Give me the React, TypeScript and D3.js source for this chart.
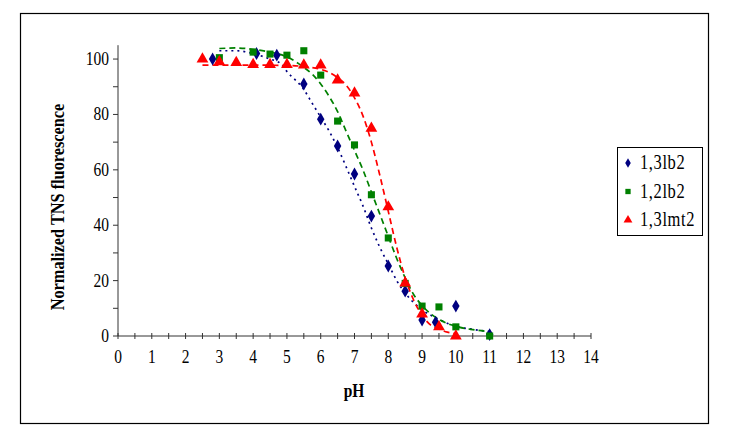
import { useEffect, useRef } from "react";
import * as d3 from "d3";

const seriesNames = ["1,3lb2", "1,2lb2", "1,3lmt2"];
const seriesColors = ["#000080", "#008000", "#ff0000"];

// measured points [pH, normalized fluorescence]
const lb13Points = [
  [2.8, 100], [4.1, 102], [4.7, 101.4], [5.5, 91], [6, 78.3], [6.5, 68.6], [7, 58.5],
  [7.5, 43.3], [8, 25.3], [8.5, 16.2], [9, 5.8], [9.4, 5], [10, 10.8], [11, 0.5],
];
const lb12Points = [
  [3, 100.5], [4, 102.5], [4.5, 101.8], [5, 101.4], [5.5, 103], [6, 94.2], [6.5, 77.6],
  [7, 69], [7.5, 51], [8, 35.4], [8.5, 19], [9, 10.8], [9.5, 10.5], [10, 3.3], [11, 0],
];
const lmt13Points = [
  [2.5, 100], [3, 99], [3.5, 98.7], [4, 98], [4.5, 98], [5, 98], [5.5, 97.8], [6, 97.8],
  [6.5, 92.4], [7, 87.7], [7.5, 75], [8, 46.6], [8.5, 19.1], [9, 7.9], [9.5, 3.3], [10, 0],
];

// fitted curves
const lb13Fit = [
  [3, 103], [3.5, 103], [4, 102], [4.5, 100], [4.8, 98.5], [5, 95.5], [5.5, 89], [5.75, 84],
  [6, 79], [6.25, 74], [6.5, 68], [7, 54], [7.25, 47], [7.5, 39], [7.75, 32], [8, 26],
  [8.25, 20], [8.5, 15.5], [9, 9.5], [9.5, 6], [10, 3.5], [10.5, 2.4], [11, 1.6],
];
const lb12Fit = [
  [3, 103.8], [3.5, 104], [4, 103.5], [4.5, 102.5], [5, 100.8], [5.5, 97], [5.75, 94.5],
  [6, 91], [6.25, 86.5], [6.5, 81], [6.75, 74], [7, 67], [7.25, 60], [7.5, 52], [7.75, 44],
  [8, 36], [8.25, 28], [8.5, 21], [8.75, 15], [9, 11], [9.5, 6], [10, 3.5], [10.5, 2.3], [11, 1.6],
];
const lmt13Fit = [
  [2.5, 97.8], [3, 97.8], [4, 97.8], [5, 97.7], [5.5, 97.3], [6, 96.3], [6.25, 95.2],
  [6.5, 93.3], [6.75, 90.6], [7, 86], [7.25, 79.5], [7.5, 70], [7.75, 58], [8, 45],
  [8.25, 32], [8.5, 21], [8.75, 13], [9, 7.5], [9.25, 4], [9.5, 2.5], [9.75, 1.4], [10, 0.8],
];

const xTicks = d3.range(0, 15);
const yTicks = [0, 20, 40, 60, 80, 100];

const WIDTH = 729;
const HEIGHT = 447;

export default function App() {
  const svgRef = useRef<SVGSVGElement | null>(null);

  useEffect(() => {
    if (!svgRef.current) return;
    const svg = d3.select(svgRef.current);
    svg.selectAll("*").remove();

    const font = "'Liberation Serif', 'Times New Roman', serif";
    const x = d3.scaleLinear().domain([0, 14]).range([118, 591]);
    const y = d3.scaleLinear().domain([0, 105]).range([336, 45.2]);

    svg.append("rect").attr("width", WIDTH).attr("height", HEIGHT).attr("fill", "#fff");
    svg
      .append("rect")
      .attr("x", 20.5)
      .attr("y", 13.5)
      .attr("width", 688)
      .attr("height", 410)
      .attr("fill", "none")
      .attr("stroke", "#000")
      .attr("stroke-width", 1.2);

    // axes
    const axes = svg.append("g").attr("stroke", "#333").attr("stroke-width", 1);
    axes.append("line").attr("x1", x(0)).attr("x2", x(0)).attr("y1", y(105)).attr("y2", y(0));
    axes.append("line").attr("x1", x(0)).attr("x2", x(14)).attr("y1", y(0)).attr("y2", y(0));

    axes
      .selectAll("line.xt")
      .data(d3.range(0, 14.01, 0.5))
      .join("line")
      .attr("class", "xt")
      .attr("x1", (d) => x(d))
      .attr("x2", (d) => x(d))
      .attr("y1", y(0) - 3)
      .attr("y2", y(0) + 3);

    axes
      .selectAll("line.yt")
      .data(d3.range(0, 100.01, 10))
      .join("line")
      .attr("class", "yt")
      .attr("x1", x(0) - 5)
      .attr("x2", x(0))
      .attr("y1", (d) => y(d))
      .attr("y2", (d) => y(d));

    // text in the original is slightly stretched vertically
    const stretch = 1.22;
    const textStyle = (sel: any, size: number, bold = false) =>
      sel
        .style("font-family", font)
        .style("font-size", `${size}px`)
        .style("font-weight", bold ? "bold" : "normal")
        .attr("fill", "#000");

    svg
      .append("g")
      .selectAll("text")
      .data(xTicks)
      .join("text")
      .attr("transform", (d) => `translate(${x(d)},363) scale(1,${stretch})`)
      .attr("text-anchor", "middle")
      .call((s) => textStyle(s, 15.5))
      .text((d) => String(d));

    svg
      .append("g")
      .selectAll("text")
      .data(yTicks)
      .join("text")
      .attr("transform", (d) => `translate(109,${y(d) + 6}) scale(1,${stretch})`)
      .attr("text-anchor", "end")
      .call((s) => textStyle(s, 15.5))
      .text((d) => String(d));

    svg
      .append("text")
      .attr("transform", `translate(354,397) scale(1,${stretch})`)
      .attr("text-anchor", "middle")
      .call((s) => textStyle(s, 15.5, true))
      .text("pH");

    svg
      .append("text")
      .attr("transform", `translate(64,207) rotate(-90) scale(1,${stretch})`)
      .attr("text-anchor", "middle")
      .call((s) => textStyle(s, 16.3, true))
      .text("Normalized TNS fluorescence");

    // fitted curves
    const line = d3
      .line<number[]>()
      .x((d) => x(d[0]))
      .y((d) => y(d[1]))
      .curve(d3.curveMonotoneX);
    const fits = [lb13Fit, lb12Fit, lmt13Fit];
    const dashes = ["2,4", "6,4", "6,4"];
    fits.forEach((fit, i) => {
      svg
        .append("path")
        .attr("d", line(fit))
        .attr("fill", "none")
        .attr("stroke", seriesColors[i])
        .attr("stroke-width", 1.7)
        .attr("stroke-dasharray", dashes[i]);
    });

    // markers
    const symbols = [
      d3.symbol().type(d3.symbolDiamond).size(48),
      d3.symbol().type(d3.symbolSquare).size(50),
      d3.symbol().type(d3.symbolTriangle).size(60),
    ];
    const pointSets = [lb13Points, lb12Points, lmt13Points];
    pointSets.forEach((points, i) => {
      svg
        .append("g")
        .selectAll("path")
        .data(points)
        .join("path")
        .attr("d", symbols[i]() as string)
        .attr("transform", (d) => `translate(${x(d[0])},${y(d[1])})`)
        .attr("fill", seriesColors[i]);
    });

    // legend
    const legend = svg.append("g").attr("transform", "translate(617,147)");
    legend
      .append("rect")
      .attr("x", 0.5)
      .attr("y", 0.5)
      .attr("width", 85)
      .attr("height", 88)
      .attr("fill", "#fff")
      .attr("stroke", "#000");
    seriesNames.forEach((name, i) => {
      const cy = 16 + i * 28.5;
      legend
        .append("path")
        .attr("d", symbols[i]() as string)
        .attr("transform", `translate(11,${cy}) scale(0.75)`)
        .attr("fill", seriesColors[i]);
      legend
        .append("text")
        .attr("transform", `translate(23,${cy + 6}) scale(1,${stretch})`)
        .style("letter-spacing", "0.6px")
        .call((s) => textStyle(s, 16.5))
        .text(name);
    });
  }, []);

  return (
    <div style={{ position: "absolute", left: 0, top: 0 }}>
      <svg ref={svgRef} width={WIDTH} height={HEIGHT} />
    </div>
  );
}
